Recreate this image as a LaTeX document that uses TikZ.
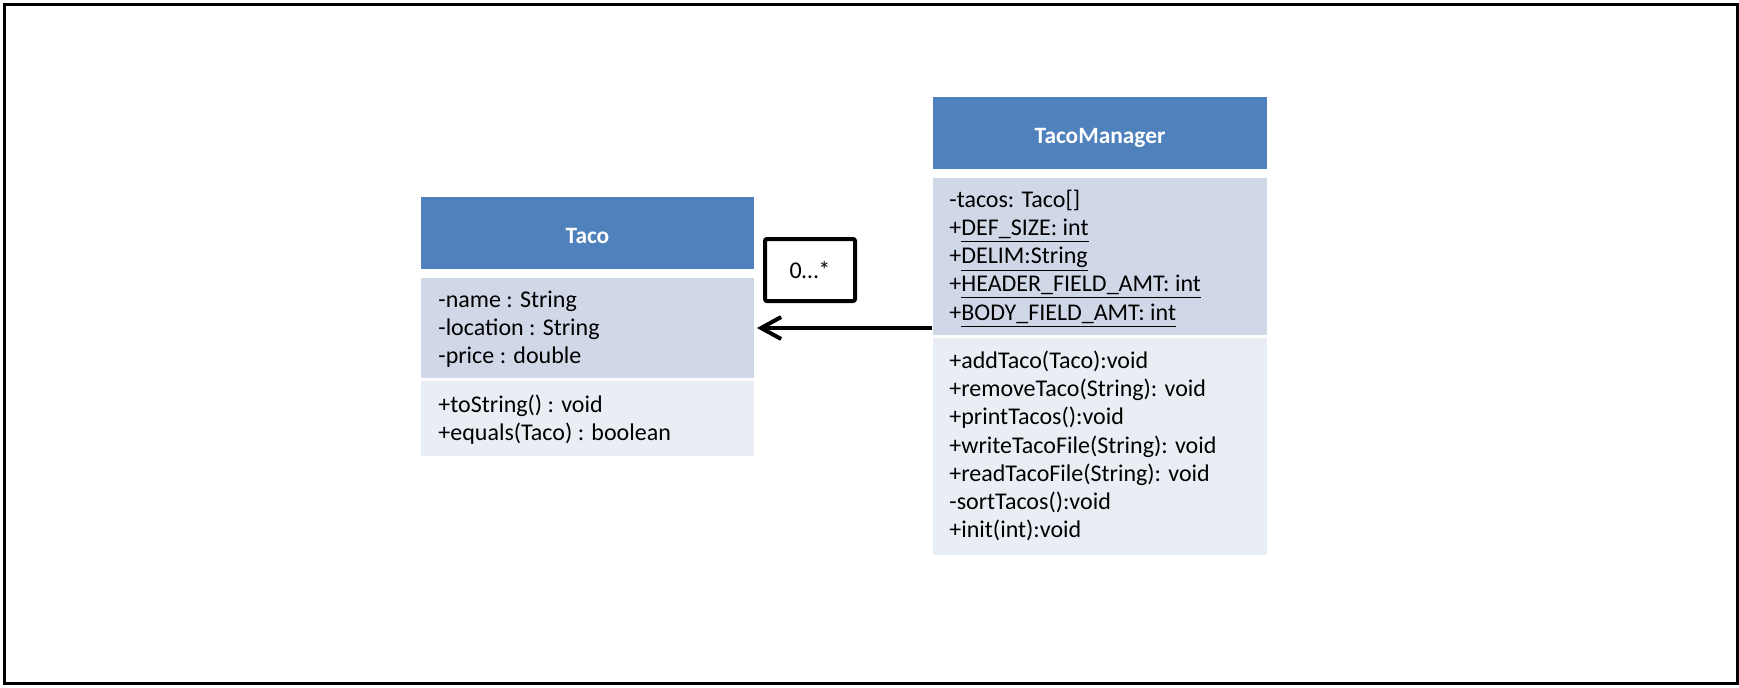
\documentclass[tikz,border=0pt]{standalone}
\usepackage{fontspec}
\setmainfont{Carlito}
\usetikzlibrary{fit,arrows.meta}
\definecolor{hdrblue}{RGB}{79,129,189}
\definecolor{attrfill}{RGB}{208,216,232}
\definecolor{methfill}{RGB}{233,237,244}
\tikzset{
  box/.style={inner sep=0pt, outer sep=0pt, draw=none},
  hdrbox/.style={box, fill=hdrblue},
  attrbox/.style={box, fill=attrfill},
  methbox/.style={box, fill=methfill},
  hdrtext/.style={inner sep=0pt, anchor=base, text=white, font=\fontsize{11.7}{14}\selectfont\bfseries},
  txt/.style={inner sep=0pt, anchor=base west, font=\fontsize{12}{14}\selectfont},
  assoc/.style={line width=2pt, -{Straight Barb[length=10pt,width=11pt]}},
  multbox/.style={draw, line width=2pt, rounded corners=1pt, minimum width=45pt, minimum height=31pt, inner sep=0pt, font=\fontsize{12}{14}\selectfont}
}
\begin{document}
\begin{tikzpicture}[x=0.5pt, y=-0.5pt]
\useasboundingbox (0,0) rectangle (1739,687);
% outer frame
\draw[line width=1.5pt] (4.3,4.3) rectangle (1737,683.5);

% class Taco
\node[hdrbox, fit={(421,197) (754,269)}] (tacohead) {};
\node[attrbox, fit={(421,278) (754,378)}] (tacoattr) {};
\node[methbox, fit={(421,381) (754,456)}] (tacometh) {};
\node[hdrtext] (taconame) at (587.5,243) {Taco};
\foreach \t [count=\i] in {{-name : String},{-location : String},{-price : double}}
  \node[txt] (tacoa\i) at (438,{307+28*(\i-1)}) {\t};
\foreach \t [count=\i] in {{+toString() : void},{+equals(Taco) : boolean}}
  \node[txt] (tacom\i) at (438,{412+28*(\i-1)}) {\t};

% class TacoManager
\node[hdrbox, fit={(933,97) (1267,169)}] (tmhead) {};
\node[attrbox, fit={(933,178) (1267,335)}] (tmattr) {};
\node[methbox, fit={(933,338) (1267,555)}] (tmmeth) {};
\node[hdrtext] (tmname) at (1100,143) {TacoManager};
\foreach \t [count=\i] in {{-tacos: Taco[]},
    {+\underline{DEF\_SIZE: int}},
    {+\underline{DELIM:String}},
    {+\underline{HEADER\_FIELD\_AMT: int}},
    {+\underline{BODY\_FIELD\_AMT: int}}}
  \node[txt] (tma\i) at (949,{207+28.25*(\i-1)}) {\t};
\foreach \t [count=\i] in {{+addTaco(Taco):void},
    {+removeTaco(String): void},
    {+printTacos():void},
    {+writeTacoFile(String): void},
    {+readTacoFile(String): void},
    {-sortTacos():void},
    {+init(int):void}}
  \node[txt] (tmm\i) at (949,{368+28.33*(\i-1)}) {\t};

% association with multiplicity
\node[multbox] (mult) at (810,270) {0\ldots*};
\draw[assoc, shorten >=1.5pt, shorten <=0.5pt] (tmattr.west |- tacoattr.east) -- (tacoattr.east);
\end{tikzpicture}
\end{document}
